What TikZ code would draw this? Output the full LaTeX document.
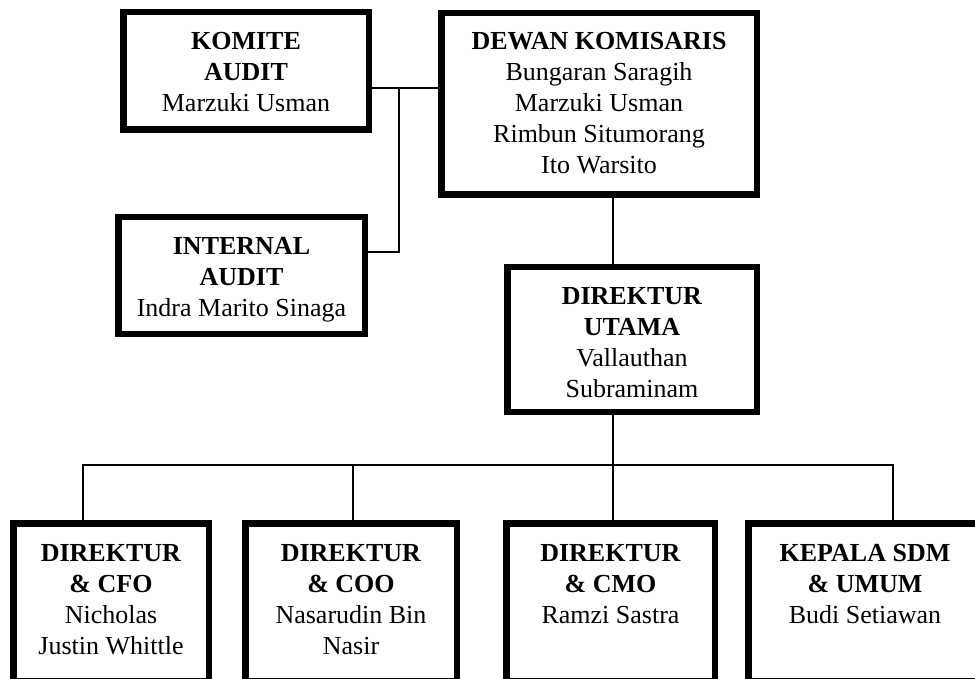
\documentclass[tikz,border=0pt]{standalone}
\usepackage{fontspec}
\setmainfont{Liberation Serif}
\begin{document}
\begin{tikzpicture}[x=1pt,y=-1pt,
  unitbox/.style={draw=black,line width=6.5pt,rectangle,inner sep=0pt},
  unittext/.style={anchor=north,inner sep=0pt,align=center,
    font=\fontsize{26}{31}\selectfont},
  link/.style={draw=black,line width=1.6pt}]
\useasboundingbox (0,0) rectangle (975,679);
\clip (0,0) rectangle (975,679);

% boxes
\node[unitbox,minimum width=245.5pt,minimum height=117.5pt] (ka) at (246,71) {};
\node[unitbox,minimum width=315.5pt,minimum height=181.5pt] (dk) at (599,104) {};
\node[unitbox,minimum width=246.5pt,minimum height=116.5pt] (ia) at (241.5,275.5) {};
\node[unitbox,minimum width=249.5pt,minimum height=144.5pt] (du) at (632,339.5) {};
\node[unitbox,minimum width=195.5pt,minimum height=157.5pt] (cfo) at (111,602) {};
\node[unitbox,minimum width=211.5pt,minimum height=157.5pt] (coo) at (351,602) {};
\node[unitbox,minimum width=208.5pt,minimum height=157.5pt] (cmo) at (610.5,602) {};
\node[unitbox,minimum width=233.5pt,minimum height=157.5pt] (sdm) at (865,602) {};

% box texts
\node[unittext] (tka) at (246,32.5) {\textbf{KOMITE}\\\textbf{AUDIT}\\Marzuki Usman};
\node[unittext] (tdk) at (599,32.5) {\textbf{DEWAN KOMISARIS}\\Bungaran Saragih\\Marzuki Usman\\Rimbun Situmorang\\Ito Warsito};
\node[unittext] (tia) at (241.5,237.5) {\textbf{INTERNAL}\\\textbf{AUDIT}\\Indra Marito Sinaga};
\node[unittext] (tdu) at (632,287.5) {\textbf{DIREKTUR}\\\textbf{UTAMA}\\Vallauthan\\Subraminam};
\node[unittext] (tcfo) at (111,544.5) {\textbf{DIREKTUR}\\\textbf{\& CFO}\\Nicholas\\Justin Whittle};
\node[unittext] (tcoo) at (351,544.5) {\textbf{DIREKTUR}\\\textbf{\& COO}\\Nasarudin Bin\\Nasir};
\node[unittext] (tcmo) at (610.5,544.5) {\textbf{DIREKTUR}\\\textbf{\& CMO}\\Ramzi Sastra};
\node[unittext] (tsdm) at (865,544.5) {\textbf{KEPALA SDM}\\\textbf{\& UMUM}\\Budi Setiawan};

% junction points
\coordinate (ja) at (399,88);
\coordinate (jb) at (399,252);
\coordinate (jc) at (613,465);
\coordinate (d1) at (83,465);
\coordinate (d2) at (353,465);
\coordinate (d4) at (893,465);

% audit links
\draw[link] (ka.east |- ja) -- (dk.west |- ja);
\draw[link] (ja) -- (jb) -- (ia.east |- jb);

% board to president director
\draw[link] (dk.south -| jc) -- (du.north -| jc);
\draw[link] (du.south -| jc) -- (jc);

% directors bus
\draw[link] (cfo.north -| d1) -- (d1) -- (d4) -- (sdm.north -| d4);
\draw[link] (d2) -- (coo.north -| d2);
\draw[link] (jc) -- (cmo.north -| jc);
\end{tikzpicture}
\end{document}
